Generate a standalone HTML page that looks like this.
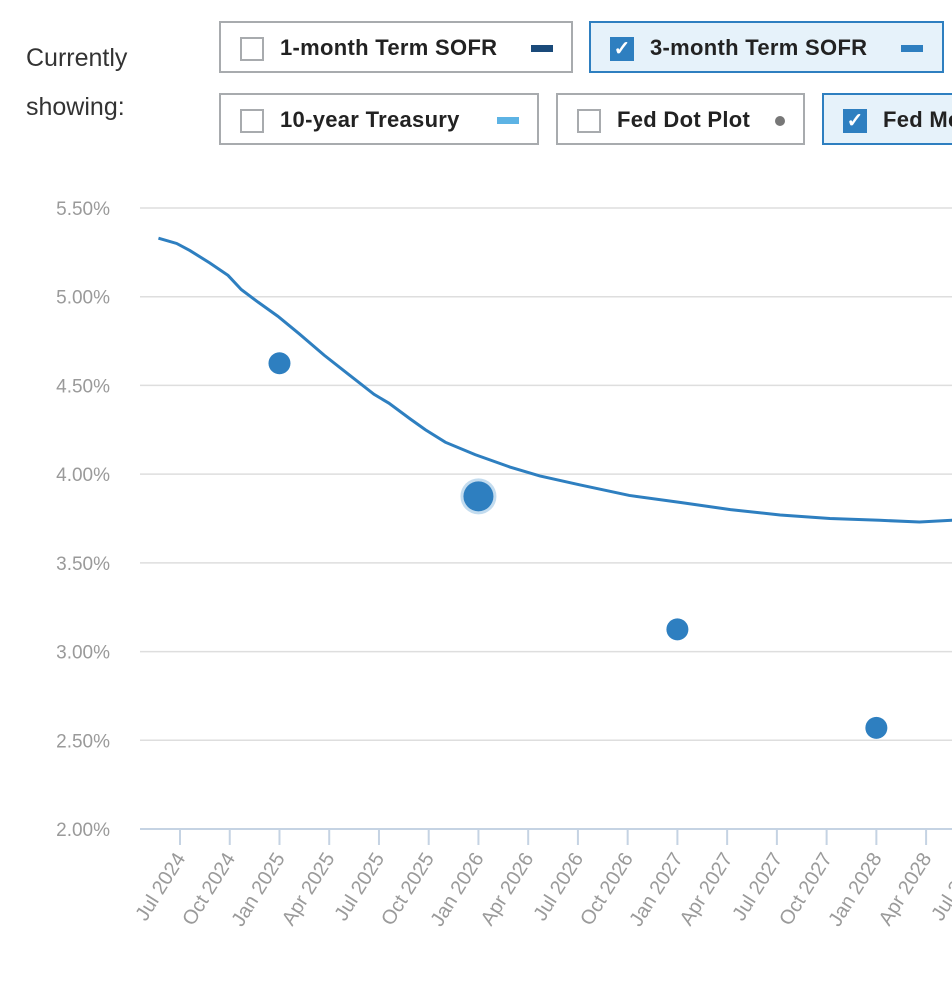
<!DOCTYPE html>
<html><head><meta charset="utf-8"><style>
body{margin:0;width:952px;height:994px;overflow:hidden;background:#fff;font-family:"Liberation Sans",sans-serif;position:relative}
.lbl{position:absolute;left:26px;font-size:25px;color:#333}
.btn{position:absolute;height:52px;box-sizing:border-box;border:2px solid #a8abae;background:#fff;font-weight:bold;font-size:22px;color:#222;white-space:nowrap;overflow:hidden}
.btn.on{border-color:#2e7fc0;background:#e6f2fa}
.cb{position:absolute;left:19px;top:14px;width:20px;height:20px;border:2px solid #a8abae;background:#fff}
.on .cb{background:#2e7fc0;border-color:#2e7fc0;color:#fff;font-size:20px;line-height:20px;text-align:center}
.tx{position:absolute;left:59px;top:12px;letter-spacing:0.3px}
.sw{position:absolute;width:22px;height:7px;top:22px}
</style></head><body>
<div class="lbl" style="top:44px">Currently</div>
<div class="lbl" style="top:93px">showing:</div>
<div class="btn" style="left:219px;top:21px;width:354px"><div class="cb"></div><span class="tx">1-month Term SOFR</span><div class="sw" style="left:310px;background:#1a4a7a"></div></div>
<div class="btn on" style="left:589px;top:21px;width:355px"><div class="cb">✓</div><span class="tx">3-month Term SOFR</span><div class="sw" style="left:310px;background:#2e7fc0"></div></div>
<div class="btn" style="left:219px;top:93px;width:320px"><div class="cb"></div><span class="tx">10-year Treasury</span><div class="sw" style="left:276px;background:#5db3e4"></div></div>
<div class="btn" style="left:556px;top:93px;width:249px"><div class="cb"></div><span class="tx">Fed Dot Plot</span><div style="position:absolute;left:217px;top:21px;width:10px;height:10px;border-radius:50%;background:#777"></div></div>
<div class="btn on" style="left:822px;top:93px;width:160px"><div class="cb">✓</div><span class="tx">Fed Median</span></div>
<svg id="chart" width="952" height="994" style="position:absolute;left:0;top:0"></svg>
<script>
const yTicks=[2.0,2.5,3.0,3.5,4.0,4.5,5.0,5.5];
const xLabels=["Jul 2024","Oct 2024","Jan 2025","Apr 2025","Jul 2025","Oct 2025","Jan 2026","Apr 2026","Jul 2026","Oct 2026","Jan 2027","Apr 2027","Jul 2027","Oct 2027","Jan 2028","Apr 2028","Jul 2028"];
const sofrMonths=[-1.3,-0.2,0.6,1.8,2.9,3.7,4.7,5.9,7.2,8.7,10.2,11.7,12.6,13.9,14.8,16.0,17.8,19.9,21.7,24.1,27.1,30.2,33.2,36.2,39.2,42.2,44.6,46.6];
const sofrRates=[5.33,5.30,5.26,5.19,5.12,5.04,4.97,4.89,4.79,4.67,4.56,4.45,4.40,4.31,4.25,4.18,4.11,4.04,3.99,3.94,3.88,3.84,3.80,3.77,3.75,3.74,3.73,3.74];
const dotMonths=[6,18,30,42];
const dotRates=[4.625,3.875,3.125,2.57];
const NS="http://www.w3.org/2000/svg",svg=document.getElementById('chart');
const X=m=>180+m*16.58, Y=r=>829-(r-2)*177.43;
function mk(t,a){const e=document.createElementNS(NS,t);for(const k in a)e.setAttribute(k,a[k]);svg.appendChild(e);return e;}
yTicks.forEach(v=>{
 const g=mk('line',{x1:140,x2:952,y1:Y(v),y2:Y(v),stroke:v==2?'#c5d3e3':'#dedede','stroke-width':v==2?2:1.5});
 
 
 const t=mk('text',{x:110,y:Y(v)+7,'text-anchor':'end','font-size':19,fill:'#9a9a9a','font-family':'Liberation Sans'});
 t.textContent=v.toFixed(2)+'%';
 
 
});
xLabels.forEach((l,i)=>{
 const x=X(i*3);
 const tk=mk('line',{x1:x,x2:x,y1:829,y2:845,stroke:'#c5d3e3','stroke-width':2});
 
 
 const t=mk('text',{x:x+6,y:858,'text-anchor':'end','font-size':20,fill:'#9a9a9a','font-family':'Liberation Sans',transform:`rotate(-58 ${x+6} 858)`});
 t.textContent=l;
 
 
});
const p=mk('path',{d:sofrMonths.map((m,i)=>(i?'L':'M')+X(m)+','+Y(sofrRates[i])).join(''),fill:'none',stroke:'#2e7fc0','stroke-width':3});


dotMonths.forEach((m,i)=>{
 const big=i==1;
 if(big){const h=mk('circle',{cx:X(m),cy:Y(dotRates[i]),r:18,fill:'#c3dcef'});}
 const c=mk('circle',{cx:X(m),cy:Y(dotRates[i]),r:big?15:11,fill:'#2e7fc0'});
 
 
});
</script>
</body></html>
